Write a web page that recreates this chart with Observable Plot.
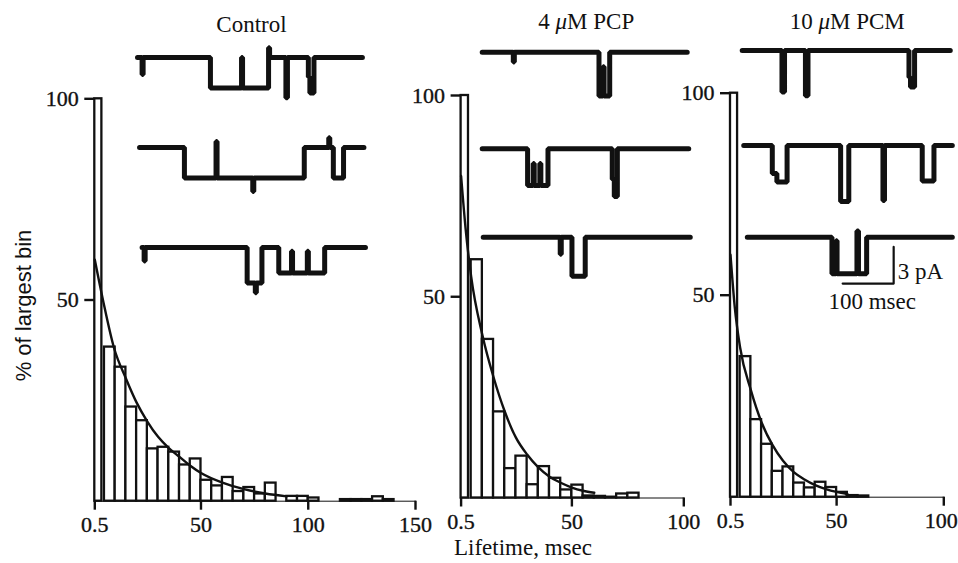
<!DOCTYPE html>
<html><head><meta charset="utf-8">
<script src="https://cdn.jsdelivr.net/npm/d3@7"></script>
<script src="https://cdn.jsdelivr.net/npm/@observablehq/plot@0.6"></script>
<style>
html,body{margin:0;padding:0;background:#fff;}
#chart{position:relative;width:958px;height:563px;overflow:hidden;background:#fff;}
#chart svg{position:absolute;left:0;top:0;background:transparent;overflow:visible;}
#chart svg.hist [aria-label*="axis"] line,
#chart svg.hist [aria-label*="axis"] path{stroke-width:2.4px;}
</style></head><body><div id="chart"></div>
<script>
// ---------------- data ----------------
const panelTitles = ["Control", "4 μM PCP", "10 μM PCM"];

// histogram bin edges (msec); the first bin starts at 0.5 msec
const binLo = [0.5, 5, 10, 15, 20, 25, 30, 35, 40, 45, 50, 55, 60, 65, 70, 75, 80, 85, 90, 95,
               100, 105, 110, 115, 120, 125, 130, 135, 140, 145];
const binHi = [3.8, 10, 15, 20, 25, 30, 35, 40, 45, 50, 55, 60, 65, 70, 75, 80, 85, 90, 95, 100,
               105, 110, 115, 120, 125, 130, 135, 140, 145, 150];

// % of largest bin
const controlHeights = [100, 38.3, 33.3, 23.4, 20.0, 13.0, 13.4, 12.2, 9.0, 10.5, 5.2, 3.8, 5.9, 2.4, 3.4,
                        1.8, 4.5, 0, 1.2, 1.2, 0.8, 0, 0, 0.4, 0.4, 0.4, 1.1, 0.4, 0, 0];
const pcpHeights = [100, 59.2, 39.4, 21.4, 7.3, 10.4, 3.3, 7.8, 4.9, 2.0, 3.2, 0.5, 0.4, 0.2, 1.0, 1.2, 0, 0, 0, 0];
const pcmHeights = [100, 34.8, 19.2, 13.1, 6.4, 7.5, 3.5, 2.3, 3.7, 2.4, 1.2, 0.4, 0.3, 0, 0, 0, 0, 0, 0, 0];

// fitted curves
const controlFitT = [0.5, 4.5, 9.5, 15, 20, 25, 30, 35, 40, 45, 50, 60, 70, 80, 90];
const controlFitV = [60, 49.5, 38, 30.5, 24.5, 19.8, 16, 13.2, 11, 8.8, 7, 4.6, 3, 1.9, 1.2];
const pcpFitT = [0.5, 2.5, 5, 10, 15, 20, 25, 30, 35, 40, 45, 50, 55, 60];
const pcpFitV = [80, 67, 55, 40.5, 30, 21.5, 15, 10.8, 7.6, 5.3, 3.8, 2.6, 1.8, 1.3];
const pcmFitT = [0.5, 2.5, 5, 10, 15, 20, 25, 30, 35, 40, 45, 50, 55];
const pcmFitV = [60, 47, 37, 26.5, 18.5, 13, 9, 6.2, 4.4, 3, 2, 1.3, 0.8];

// axis ticks
const controlTicks = [0.5, 50, 100, 150];
const drugTicks = [0.5, 50, 100];
const yTicks = [50, 100];

// single-channel current records: [time msec, current pA] breakpoints (step)
const controlTrace1 = [[0,0],[9,-1.4],[11,0],[143,-2.5],[204,0],[206,-2.5],[257,0.8],[259,0],[291,-3.3],[294,0],[335,-1.6],[338,-2.9],[346,0],[441,0]];
const controlTrace2 = [[4,0],[92,-2.5],[154,0.5],[156,-2.5],[226,-3.6],[228,-2.5],[327,0],[375,0.8],[377,0],[384,-2.5],[404,0],[444,0]];
const controlTrace3 = [[9,0],[13,-1.1],[15,0],[215,-2.9],[231,-3.7],[233,-2.9],[244,0],[277,-2.1],[302,-0.3],[304,-2.1],[333,-0.3],[335,-2.1],[367,0],[447,0]];
const pcpTrace1 = [[0,0],[61,-0.8],[63,0],[229,-3.6],[237,-1.2],[239,-3.6],[250,0],[402,0]];
const pcpTrace2 = [[0,0],[89,-3.0],[100,-1.2],[102,-3.0],[113,-1.2],[115,-3.0],[129,0],[255,-2.5],[259,-3.9],[265,0],[405,0]];
const pcpTrace3 = [[2,0],[153,-1.4],[155,0],[176,-3.2],[202,0],[408,0]];
const pcmTrace1 = [[0,0],[78,-3.4],[83,0],[124,-3.7],[129,0],[327,-2.2],[330,-3.0],[338,0],[408,0]];
const pcmTrace2 = [[3,0],[59,-2.3],[68,-3.0],[88,0],[193,-4.6],[209,0],[276,-4.5],[279,0],[353,-2.9],[376,0],[412,0]];
const pcmTrace3 = [[10,0],[176,-3.0],[184,-0.3],[186,-3.0],[225,0.5],[228,-3.0],[244,0],[412,0]];
const traceDurations = [447, 408, 412];

// calibration bar: 100 msec, 3 pA
const scaleBarTime = [197, 297, 297];
const scaleBarCurrent = [-3.8, -3.8, -0.8];
const scaleBarLabels = ["3 pA", "100 msec"];

// ---------------- layout (pixels) ----------------
const W = 958, H = 563;
const SERIF = "Liberation Serif";
const SANS = "Liberation Sans";
const INK = "#111";
const PX_PER_PA = 12.2, PX_PER_MS = 0.51;
const TRACE_Y = [-4.5, 1];

const panels = [
  {title: panelTitles[0], heights: controlHeights, fitT: controlFitT, fitV: controlFitV, ticks: controlTicks, xmax: 150,
   left: 94.3, right: 415, top: 98.3, base: 500.7,
   traces: [controlTrace1, controlTrace2, controlTrace3], tx0: 137, closed: [57, 147, 247], titleBase: 31},
  {title: panelTitles[1], heights: pcpHeights, fitT: pcpFitT, fitV: pcpFitV, ticks: drugTicks, xmax: 100,
   left: 460.6, right: 683.3, top: 95, base: 497.5,
   traces: [pcpTrace1, pcpTrace2, pcpTrace3], tx0: 481.7, closed: [51.7, 148.3, 236.7], titleBase: 28},
  {title: panelTitles[2], heights: pcmHeights, fitT: pcmFitT, fitV: pcmFitV, ticks: drugTicks, xmax: 100,
   left: 730, right: 943.3, top: 92.7, base: 496.7,
   traces: [pcmTrace1, pcmTrace2, pcmTrace3], tx0: 741.7, closed: [50, 145, 236.7], titleBase: 28}
];

const chart = document.getElementById("chart");

function italicMu(svg) {
  d3.select(svg).selectAll("text").each(function () {
    const s = this.textContent;
    if (!s.includes("μ")) return;
    const parts = s.split("μ");
    this.textContent = "";
    parts.forEach((p, k) => {
      if (k > 0) d3.select(this).append("tspan").attr("font-style", "italic").text("μ");
      d3.select(this).append("tspan").text(p);
    });
  });
}

panels.forEach((p, pi) => {
  const bins = p.heights.map((h, k) => ({x1: binLo[k], x2: binHi[k], y: h}));
  const fit = p.fitT.map((t, k) => ({t, v: p.fitV[k]}));
  const lastTick = p.ticks[p.ticks.length - 1];
  const innerTicks = p.ticks.slice(0, -1);
  const extra = [];
  if (pi === 0) {
    extra.push(Plot.text(["% of largest bin"], {frameAnchor: "left", textAnchor: "middle", rotate: -90, dx: -71, dy: 5.5,
      fontFamily: SANS, fontSize: 22, fill: INK}));
  }
  if (pi === 1) {
    extra.push(Plot.text(["Lifetime, msec"], {frameAnchor: "bottom", lineAnchor: "bottom",
      dx: -49.5, dy: 57, fontFamily: SERIF, fontSize: 23, fill: INK}));
  }
  const hist = Plot.plot({
    width: W, height: H,
    marginLeft: p.left, marginRight: W - p.right, marginTop: p.top, marginBottom: H - p.base,
    x: {domain: [0.5, p.xmax], ticks: p.ticks, tickFormat: () => "", tickSize: 9, tickPadding: 0, line: true, label: null},
    y: {domain: [0, 100], ticks: yTicks, tickFormat: () => "", tickSize: 10, tickPadding: 0, line: true, label: null},
    style: {fontFamily: SERIF, fontSize: "22px", color: INK, background: "transparent", overflow: "visible"},
    marks: [
      Plot.rectY(bins, {x1: "x1", x2: "x2", y: "y", fill: "white", stroke: INK, strokeWidth: 2.3}),
      Plot.line(fit, {x: "t", y: "v", curve: "monotone-x", stroke: INK, strokeWidth: 2.4}),
      // tick labels
      Plot.text(innerTicks, {x: d => d, y: 0, text: d => String(d), lineAnchor: "top", dy: 15,
        fontFamily: SERIF, fontSize: 22, fill: INK, stroke: INK, strokeWidth: 0.35}),
      Plot.text([lastTick], {x: d => d, y: 0, text: d => String(d), lineAnchor: "top", dy: 15, dx: pi === 2 ? -2.5 : 0,
        fontFamily: SERIF, fontSize: 22, fill: INK, stroke: INK, strokeWidth: 0.35}),
      Plot.text(yTicks, {y: d => d, frameAnchor: "left", textAnchor: "end", dx: -16, text: d => String(d),
        fontFamily: SERIF, fontSize: 22, fill: INK, stroke: INK, strokeWidth: 0.35}),
      ...extra
    ]
  });
  hist.classList.add("hist");
  chart.appendChild(hist);

  // current records above each histogram
  const dur = traceDurations[pi];
  p.traces.forEach((tr, k) => {
    const top = p.closed[k] - PX_PER_PA * TRACE_Y[1];
    const bottom = top + PX_PER_PA * (TRACE_Y[1] - TRACE_Y[0]);
    const data = tr.map(([t, i]) => ({t, i}));
    const marks = [Plot.line(data, {x: "t", y: "i", curve: "step-after", stroke: INK, strokeWidth: 5, strokeLinejoin: "miter"})];
    if (k === 0) {
      marks.push(Plot.text([p.title], {frameAnchor: "top", lineAnchor: "bottom", dy: p.titleBase - top,
        fontFamily: SERIF, fontSize: 23, fill: INK}));
    }
    if (pi === 2 && k === 2) {
      const bar = scaleBarTime.map((t, j) => ({t, i: scaleBarCurrent[j]}));
      marks.push(Plot.line(bar, {x: "t", y: "i", stroke: INK, strokeWidth: 2.2}));
      marks.push(Plot.text([{t: scaleBarTime[2], i: -3.4, s: scaleBarLabels[0]}],
        {x: "t", y: "i", text: "s", textAnchor: "start", lineAnchor: "bottom", dx: 4, fontFamily: SERIF, fontSize: 23, fill: INK}));
      marks.push(Plot.text([{t: (scaleBarTime[0] + scaleBarTime[1]) / 2, i: scaleBarCurrent[0], s: scaleBarLabels[1]}],
        {x: "t", y: "i", text: "s", lineAnchor: "top", dx: 4, dy: 9, fontFamily: SERIF, fontSize: 23, fill: INK}));
    }
    const svg = Plot.plot({
      width: W, height: H,
      marginLeft: p.tx0, marginRight: W - (p.tx0 + dur * PX_PER_MS),
      marginTop: top, marginBottom: H - bottom,
      x: {domain: [0, dur], axis: null},
      y: {domain: TRACE_Y, axis: null},
      style: {fontFamily: SERIF, fontSize: "21px", color: INK, background: "transparent", overflow: "visible", pointerEvents: "none"},
      marks
    });
    italicMu(svg);
    chart.appendChild(svg);
  });
});
</script></body></html>
